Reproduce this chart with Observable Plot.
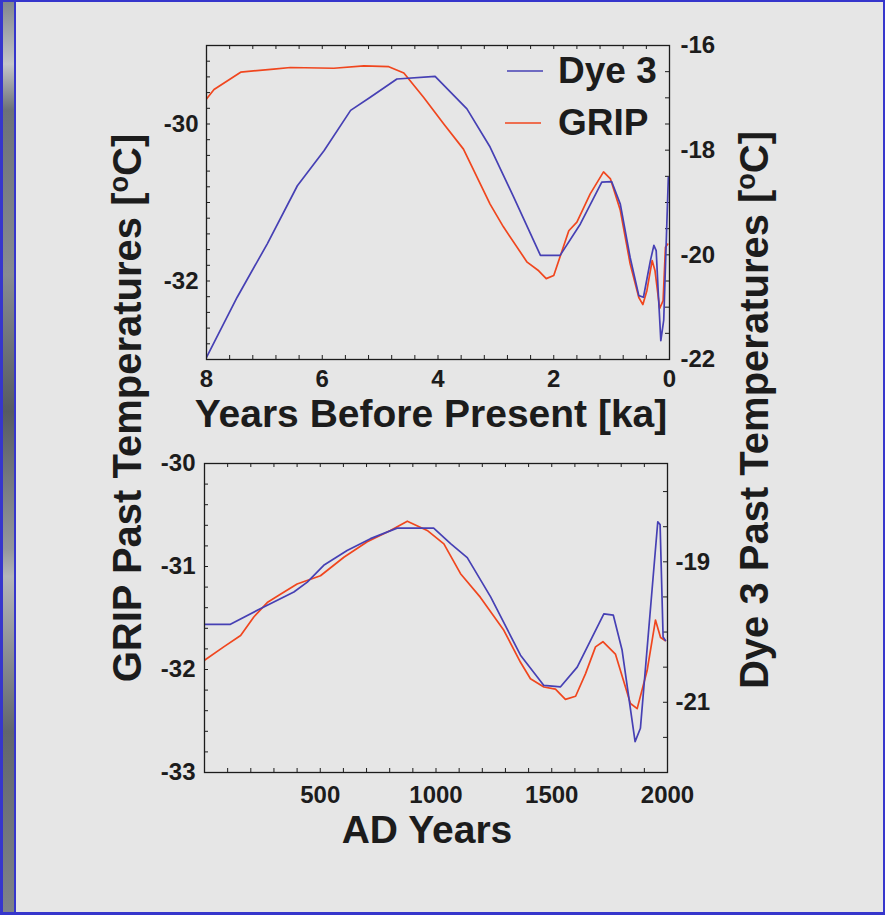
<!DOCTYPE html>
<html>
<head>
<meta charset="utf-8">
<script src="https://cdn.jsdelivr.net/npm/d3@7"></script>
<script src="https://cdn.jsdelivr.net/npm/@observablehq/plot@0.6"></script>
<style>
  html, body { margin: 0; padding: 0; background: #e6e6e6; }
  #page { position: relative; width: 885px; height: 915px; background: #e6e6e6; overflow: hidden; }
  #page > svg { position: absolute; left: 0; }
  .b { position: absolute; background: #3636cc; }
</style>
</head>
<body>
<div id="page">
  <div style="position:absolute;left:3px;top:0;width:11px;height:915px;background:linear-gradient(to bottom,#80858c 0%,#c4c6c9 7%,#6c7178 12%,#878b91 30%,#565b62 45%,#94979c 60%,#b4b6b9 63%,#61666d 80%,#7f8389 100%);"></div>
  <div class="b" style="left:0;top:0;width:3px;height:915px"></div>
  <div class="b" style="left:14px;top:0;width:2px;height:915px"></div>
  <div class="b" style="left:0;top:0;width:885px;height:2px"></div>
  <div class="b" style="left:883px;top:0;width:2px;height:915px"></div>
  <div class="b" style="left:0;top:912px;width:885px;height:3px"></div>
</div>
<script>
// ---------- data ----------
// Top panel: years before present (ka)
const gripTopKa = [8.0, 7.87, 7.41, 6.84, 6.55, 5.80, 5.28, 4.85, 4.59, 4.25, 3.90, 3.56, 3.10, 2.87, 2.46, 2.26, 2.13, 2.00, 1.74, 1.60, 1.37, 1.14, 1.02, 0.85, 0.68, 0.53, 0.46, 0.39, 0.30, 0.25, 0.17, 0.11, 0.07, 0.03];
const gripTopT  = [-29.68, -29.56, -29.34, -29.30, -29.28, -29.29, -29.26, -29.27, -29.35, -29.66, -30.00, -30.32, -31.02, -31.31, -31.76, -31.87, -31.97, -31.93, -31.36, -31.25, -30.89, -30.61, -30.70, -31.10, -31.78, -32.21, -32.30, -32.12, -31.74, -31.87, -32.35, -32.25, -31.57, -31.53];
const dye3TopKa = [8.0, 7.47, 6.95, 6.43, 5.97, 5.51, 5.17, 4.71, 4.05, 3.50, 3.10, 2.69, 2.23, 1.89, 1.54, 1.17, 1.00, 0.85, 0.68, 0.53, 0.45, 0.33, 0.27, 0.23, 0.19, 0.15, 0.10, 0.05, 0.02];
const dye3TopT  = [-21.96, -20.81, -19.79, -18.68, -18.01, -17.24, -16.99, -16.64, -16.59, -17.21, -17.94, -18.90, -20.01, -20.01, -19.41, -18.61, -18.60, -19.03, -20.05, -20.78, -20.81, -20.11, -19.82, -19.92, -20.81, -21.64, -21.25, -19.54, -18.52];

// Bottom panel: AD years
const gripAD  = [0, 83, 156, 213, 271, 328, 400, 501, 602, 703, 803, 876, 962, 1034, 1106, 1192, 1293, 1365, 1408, 1466, 1516, 1559, 1603, 1646, 1689, 1721, 1775, 1840, 1869, 1912, 1948, 1970, 1991];
const gripADT = [-31.91, -31.78, -31.67, -31.49, -31.35, -31.27, -31.17, -31.09, -30.91, -30.76, -30.65, -30.56, -30.65, -30.78, -31.07, -31.30, -31.62, -31.93, -32.09, -32.17, -32.19, -32.29, -32.26, -32.04, -31.78, -31.73, -31.85, -32.33, -32.38, -32.01, -31.52, -31.69, -31.72];
const dye3AD  = [0, 112, 228, 386, 444, 515, 616, 717, 832, 990, 1063, 1135, 1236, 1365, 1466, 1538, 1610, 1725, 1766, 1804, 1860, 1883, 1958, 1968, 1981, 1991];
const dye3ADT = [-19.89, -19.89, -19.69, -19.43, -19.29, -19.05, -18.84, -18.67, -18.52, -18.52, -18.74, -18.94, -19.50, -20.33, -20.76, -20.78, -20.50, -19.74, -19.76, -20.26, -21.56, -21.37, -18.43, -18.47, -20.07, -20.12];

// axis domains and tick labels
const topXDomain = [8, 0];
const topGripDomain = [-33, -29];
const topDyeDomain = [-22, -16];
const topXTicks = [8, 6, 4, 2, 0];
const topGripTicks = [-30, -32];
const topDyeTicks = [-16, -18, -20, -22];

const botXDomain = [0, 2000];
const botGripDomain = [-33, -30];
const botDyeDomain = [-22, -17.6];
const botXTicks = [500, 1000, 1500, 2000];
const botGripTicks = [-30, -31, -32, -33];
const botDyeTicks = [-19, -21];

const seriesNames = ["Dye 3", "GRIP"];
const seriesColors = ["#4640b4", "#f0461e"];

// ---------- helpers ----------
const INK = "#1c1c1c";
const FONT = "'Liberation Sans', Arial, Helvetica, sans-serif";
const range = (a, b, s) => { const out = []; for (let v = a; v <= b + 1e-9; v += s) out.push(+v.toFixed(4)); return out; };
const toMap = (from, to) => d => to[0] + (d - from[0]) * (to[1] - to[0]) / (from[1] - from[0]);
const TL = 4; // inward tick length in px

function panel({ xDomain, gDomain, dDomain, xMinor, gMinor, dMinor, xTicks, gTicks, dTicks,
                 gx, gy, dx, dy, height, margins, padX, padL, padR }) {
  const dyeToG = toMap(dDomain, gDomain);
  const grip = gx.map((x, i) => ({ x, y: gy[i] }));
  const dye = dx.map((x, i) => ({ x, y: dyeToG(dy[i]) }));
  const dMinorG = dMinor.map(dyeToG);
  const dTicksG = dTicks.map(dyeToG);
  const fw = 885 - margins.marginLeft - margins.marginRight;
  const fh = height - margins.marginTop - margins.marginBottom;
  const tk = { stroke: INK, strokeWidth: 1 };
  return Plot.plot({
    width: 885, height, ...margins,
    style: { background: "transparent", fontFamily: FONT, color: INK, overflow: "visible" },
    x: { domain: xDomain, axis: null },
    y: { domain: gDomain, axis: null },
    marks: [
      Plot.tickX(xMinor, { x: d => d, insetTop: fh - TL, ...tk }),
      Plot.tickX(xMinor, { x: d => d, insetBottom: fh - TL, ...tk }),
      Plot.tickY(gMinor, { y: d => d, insetRight: fw - TL, ...tk }),
      Plot.tickY(dMinorG, { y: d => d, insetLeft: fw - TL, ...tk }),
      Plot.line(grip, { x: "x", y: "y", stroke: seriesColors[1], strokeWidth: 1.7, clip: true }),
      Plot.line(dye, { x: "x", y: "y", stroke: seriesColors[0], strokeWidth: 1.7, clip: true }),
      Plot.frame({ stroke: INK, strokeWidth: 1.3 }),
      Plot.axisX(xTicks, { anchor: "bottom", tickSize: 0, tickPadding: padX, fontSize: 24, fontWeight: "bold", fill: INK, tickFormat: d => String(d), label: null }),
      Plot.axisY(gTicks, { anchor: "left", tickSize: 0, tickPadding: padL, fontSize: 24, fontWeight: "bold", fill: INK, tickFormat: d => String(d), label: null }),
      Plot.axisY(dTicksG, { anchor: "right", tickSize: 0, tickPadding: padR, fontSize: 24, fontWeight: "bold", fill: INK, tickFormat: (d, i) => String(dTicks[i]), label: null })
    ]
  });
}

const page = document.getElementById("page");

const topPanel = panel({
  xDomain: topXDomain, gDomain: topGripDomain, dDomain: topDyeDomain,
  xMinor: range(0, 8, 0.4), gMinor: range(-33, -29, 0.2), dMinor: range(-22, -16, 0.5),
  xTicks: topXTicks, gTicks: topGripTicks, dTicks: topDyeTicks,
  gx: gripTopKa, gy: gripTopT, dx: dye3TopKa, dy: dye3TopT,
  height: 440, margins: { marginTop: 45, marginBottom: 81, marginLeft: 206, marginRight: 216 },
  padX: 10, padL: 8, padR: 11
});
topPanel.style.top = "0px";
page.appendChild(topPanel);

const botPanel = panel({
  xDomain: botXDomain, gDomain: botGripDomain, dDomain: botDyeDomain,
  xMinor: range(0, 2000, 100), gMinor: range(-33, -30, 0.2), dMinor: range(-22, -17.6, 0.5),
  xTicks: botXTicks, gTicks: botGripTicks, dTicks: botDyeTicks,
  gx: gripAD, gy: gripADT, dx: dye3AD, dy: dye3ADT,
  height: 475, margins: { marginTop: 23, marginBottom: 143, marginLeft: 204, marginRight: 218 },
  padX: 13, padL: 9, padR: 8
});
botPanel.style.top = "440px";
page.appendChild(botPanel);

// ---------- titles & legend ----------
const NS = "http://www.w3.org/2000/svg";
const ov = document.createElementNS(NS, "svg");
ov.setAttribute("width", 885); ov.setAttribute("height", 915);
ov.style.top = "0px";
ov.setAttribute("font-family", FONT);
ov.setAttribute("font-weight", "bold");
ov.setAttribute("fill", INK);
ov.innerHTML = `
  <text transform="translate(141,408) rotate(-90)" text-anchor="middle" font-size="40">GRIP Past Temperatures [<tspan dy="-13" font-size="27">o</tspan><tspan dy="13">C]</tspan></text>
  <text transform="translate(768,410) rotate(-90)" text-anchor="middle" font-size="40">Dye 3 Past Temperatures [<tspan dy="-13" font-size="27">o</tspan><tspan dy="13">C]</tspan></text>
  <text x="431" y="427" text-anchor="middle" font-size="39">Years Before Present [ka]</text>
  <text x="427" y="843" text-anchor="middle" font-size="39">AD Years</text>
  <line x1="507" x2="543" y1="71" y2="71" stroke="${seriesColors[0]}" stroke-width="1.6"/>
  <text x="558" y="83" font-size="37">${seriesNames[0]}</text>
  <line x1="505" x2="541" y1="123" y2="123" stroke="${seriesColors[1]}" stroke-width="1.6"/>
  <text x="558" y="135" font-size="37">${seriesNames[1]}</text>
`;
page.appendChild(ov);
</script>
</body>
</html>
